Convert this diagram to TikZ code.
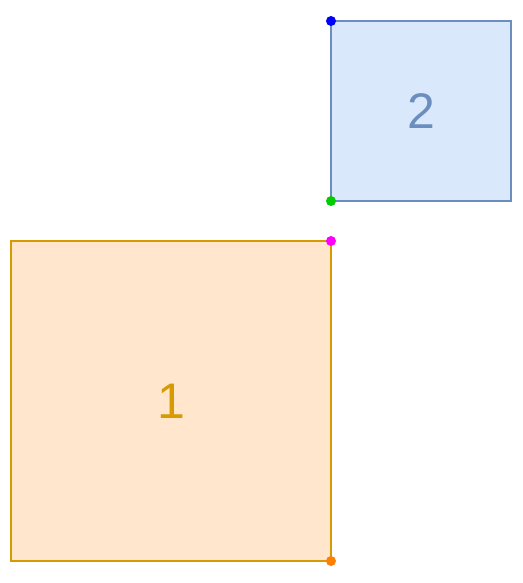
\documentclass[tikz,border=0pt]{standalone}
\usepackage{fontspec}
\setmainfont{Liberation Sans}
\usetikzlibrary{positioning}
\definecolor{boxblue}{HTML}{DAE8FC}
\definecolor{lineblue}{HTML}{6C8EBF}
\definecolor{boxorange}{HTML}{FFE6CC}
\definecolor{lineorange}{HTML}{D79B00}
\definecolor{dotblue}{HTML}{0000FF}
\definecolor{dotgreen}{HTML}{00CC00}
\definecolor{dotpink}{HTML}{FF00FF}
\definecolor{dotorange}{HTML}{FF8000}
\begin{document}
\begin{tikzpicture}[x=1pt,y=1pt,
    square/.style={rectangle, line width=2pt, inner sep=0pt, outer sep=0pt, font=\fontsize{50}{50}\selectfont},
    corner/.style={circle, inner sep=0pt, minimum size=10pt}]
        %% Square 1
        \node[square, draw=lineorange, fill=boxorange, text=lineorange, minimum size=320pt] (S1) {1};
        %% Square 2
        \node[square, draw=lineblue, fill=boxblue, text=lineblue, minimum size=180pt,
              above right=40pt and 0pt of S1.north east] (S2) {2};

        %% Corner dots
        \node[corner, fill=dotblue] (c1) at (S2.north west) {};
        \node[corner, fill=dotgreen] (c2) at (S2.south west) {};
        \node[corner, fill=dotpink] (c3) at (S1.north east) {};
        \node[corner, fill=dotorange] (c4) at (S1.south east) {};

        \useasboundingbox ([xshift=-11pt, yshift=-22pt]S1.south west) rectangle ([xshift=11pt, yshift=21pt]S2.north east);
\end{tikzpicture}
\end{document}
